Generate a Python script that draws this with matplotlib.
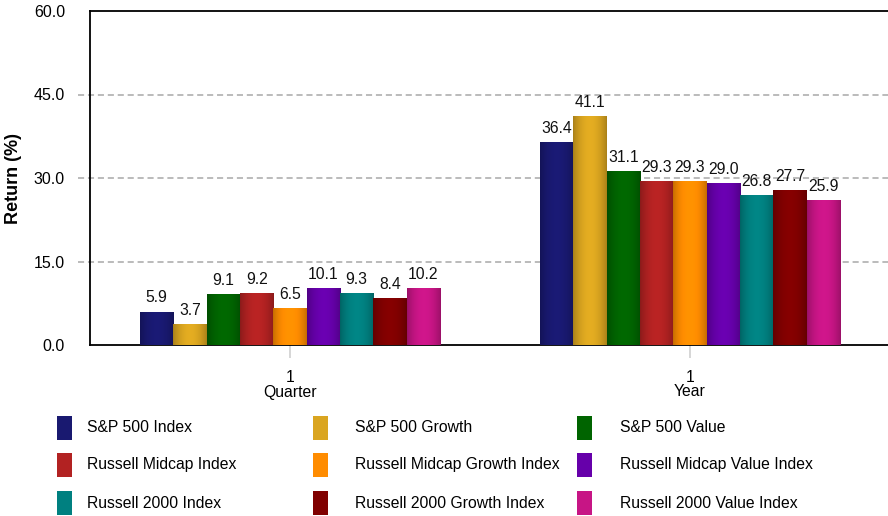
import numpy as np
import matplotlib
matplotlib.use("Agg")
import matplotlib.pyplot as plt
from matplotlib.colors import to_rgb
from matplotlib.patches import Rectangle

plt.rcParams['font.family'] = ['Liberation Sans', 'DejaVu Sans']

periods = ["Quarter", "Year"]
period_ticks = ["1", "1"]
series = ["S&P 500 Index", "S&P 500 Growth", "S&P 500 Value",
          "Russell Midcap Index", "Russell Midcap Growth Index", "Russell Midcap Value Index",
          "Russell 2000 Index", "Russell 2000 Growth Index", "Russell 2000 Value Index"]
quarter = [5.9, 3.7, 9.1, 9.2, 6.5, 10.1, 9.3, 8.4, 10.2]
year = [36.4, 41.1, 31.1, 29.3, 29.3, 29.0, 26.8, 27.7, 25.9]
colors = ["#191970", "#DAA520", "#006400", "#B22222", "#FF8C00",
          "#6600AA", "#008080", "#800000", "#C71585"]
yticks = [0, 15, 30, 45, 60]

W, H = 888, 516
fig = plt.figure(figsize=(W / 100, H / 100), dpi=100)
ax = fig.add_axes([90 / W, 1 - 345 / H, 800 / W, 334 / H])

values = np.array([quarter, year])  # shape (periods, series)
n = len(series)
group_w = 0.75
bw = group_w / n
x = np.arange(len(periods))

t = np.linspace(0, 1, 40)
shade = 0.78 + 0.27 * np.sin(np.pi * t) ** 0.8

for j in range(n):
    base = np.array(to_rgb(colors[j]))
    grad = np.clip(base[None, :] * shade[:, None], 0, 1)
    img = grad[None, :, :]
    for i in range(len(periods)):
        x0 = x[i] - group_w / 2 + j * bw
        v = values[i, j]
        ax.bar(x0, v, width=bw, align='edge', color=colors[j], zorder=3, linewidth=0)
        ax.imshow(img, extent=(x0, x0 + bw, 0, v), aspect='auto', zorder=3.5,
                  interpolation='bilinear')
        ax.text(x0 + bw / 2, v + 1.2, f"{v:.1f}", ha='center', va='bottom',
                fontsize=11.3, color='#111111', zorder=5)

ax.set_xlim(-0.5, 1.5)
ax.set_ylim(0, 60)
ax.set_yticks(yticks)
ax.set_yticklabels([f"{v:.1f}" for v in yticks], fontsize=11.5)
ax.tick_params(axis='y', length=0, pad=18)
ax.set_xticks(x)
ax.set_xticklabels(period_ticks, fontsize=11.3)
ax.tick_params(axis='x', length=9, width=1.2, color='#d0d0d0', pad=9, direction='out')
for i, p in enumerate(periods):
    ax.text(x[i], -(392 - 345) / 334, p, transform=ax.get_xaxis_transform(), ha='center',
            va='center', fontsize=11.3)

for v in yticks[1:-1]:
    ax.axhline(v, xmin=-0.015, xmax=1, color='#a8a8a8', linestyle=(0, (4, 2.5)),
               linewidth=1.1, zorder=1, clip_on=False)

for s in ['left', 'top', 'bottom']:
    ax.spines[s].set_linewidth(1.3)
    ax.spines[s].set_color('black')
ax.spines['right'].set_visible(False)

fig.text(14 / W, 1 - 178 / H, "Return (%)", rotation=90, ha='center', va='center',
         fontsize=13, fontweight='bold')

# legend
col_patch_x = [57, 313, 577]
col_text_x = [87, 355, 620]
row_y = [428, 465, 503]
for k, name in enumerate(series):
    r, c = divmod(k, 3)
    fig.add_artist(Rectangle((col_patch_x[c] / W, 1 - (row_y[r] + 12) / H), 15 / W, 24 / H,
                             transform=fig.transFigure, facecolor=colors[k], edgecolor='none'))
    fig.text(col_text_x[c] / W, 1 - row_y[r] / H, name, ha='left', va='center', fontsize=11.3)

fig.savefig("out.png", dpi=100)
